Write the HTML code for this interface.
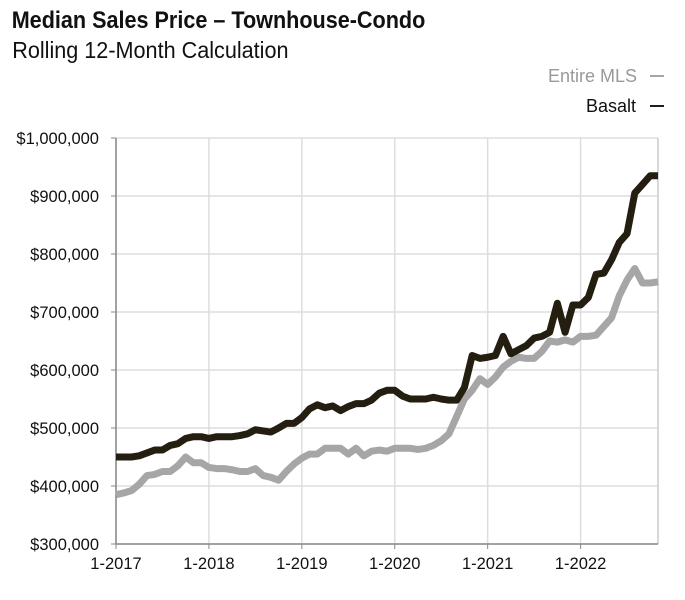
<!DOCTYPE html>
<html><head><meta charset="utf-8"><style>
body{margin:0;background:#fff;font-family:"Liberation Sans",sans-serif;}
#w{position:relative;width:685px;height:595px;}
</style></head><body>
<div id="w">
<svg width="685" height="595" id="svg">
<text x="13" y="28" font-size="24" font-weight="bold" fill="#111" transform="scale(0.9,1)">Median Sales Price – Townhouse-Condo</text>
<text x="13" y="58" font-size="23" fill="#111" transform="scale(0.94,1)">Rolling 12-Month Calculation</text>
<g><text x="637" y="82" font-size="18" fill="#999" text-anchor="end">Entire MLS</text><line x1="650" y1="76" x2="664" y2="76" stroke="#a6a6a6" stroke-width="2"/></g>
<g><text x="636" y="112" font-size="18" fill="#111" text-anchor="end">Basalt</text><line x1="650" y1="106" x2="664" y2="106" stroke="#231e10" stroke-width="2"/></g>
<g id="grid"></g><g id="axes"></g><g id="series"></g>
</svg></div>
<script>
const categories=[];for(let y=2017;y<=2022;y++)for(let m=1;m<=12;m++)if(!(y==2022&&m==12))categories.push(m+"-"+y);
const basalt=[450,450,450,452,457,462,462,470,473,482,485,485,482,485,485,485,487,490,497,495,493,500,508,508,518,533,540,535,538,530,537,542,542,548,560,565,565,555,550,550,550,553,550,548,548,570,625,620,622,625,658,628,635,642,655,658,665,715,665,712,712,725,765,767,790,820,835,905,920,935,935];
const entireMLS=[385,388,392,403,418,420,425,425,435,450,440,440,432,430,430,428,425,425,430,418,415,410,425,438,448,455,455,465,465,465,455,465,452,460,462,460,465,465,465,463,465,470,478,490,520,550,565,585,575,588,605,615,622,620,620,632,650,648,652,648,658,658,660,675,690,728,755,775,750,750,752];
const yTicks=[300,400,500,600,700,800,900,1000];
const yTickLabels=["$300,000","$400,000","$500,000","$600,000","$700,000","$800,000","$900,000","$1,000,000"];
const xTickLabels=["1-2017","1-2018","1-2019","1-2020","1-2021","1-2022"];
const X0=116,X1=658,Y0=544,Y1=138;
const x=i=>X0+(X1-X0)*i/(categories.length-1);
const y=v=>Y0-(v-300)/700*(Y0-Y1);
const NS="http://www.w3.org/2000/svg";
function mk(t,a,p){const e=document.createElementNS(NS,t);for(const k in a)e.setAttribute(k,a[k]);p.appendChild(e);return e;}
const grid=document.getElementById('grid'),axes=document.getElementById('axes'),ser=document.getElementById('series');
yTicks.forEach((v,i)=>{
 const l=mk('line',{x1:X0,x2:X1,y1:y(v),y2:y(v),stroke:'#ddd','stroke-width':1.5},grid);
 
 
 const t=mk('text',{x:99,y:y(v)+6,'font-size':16.5,'text-anchor':'end',fill:'#111'},axes);t.textContent=yTickLabels[i];
 
 
 mk('line',{x1:X0-5,x2:X0,y1:y(v),y2:y(v),stroke:'#888'},axes);
});
xTickLabels.forEach((s,i)=>{
 const xx=x(i*12);
 const l=mk('line',{x1:xx,x2:xx,y1:Y1,y2:Y0,stroke:'#ddd','stroke-width':1.5},grid);
 
 
 mk('line',{x1:xx,x2:xx,y1:Y0,y2:Y0+5,stroke:'#888'},axes);
 const t=mk('text',{x:xx,y:Y0+25,'font-size':16.5,'text-anchor':'middle',fill:'#111'},axes);t.textContent=s;
 
 
});
mk('line',{x1:X1,x2:X1,y1:Y1,y2:Y0,stroke:'#ccc','stroke-width':1.5},grid);
mk('line',{x1:X0,x2:X0,y1:Y1,y2:Y0,stroke:'#888','stroke-width':1.5},axes);
mk('line',{x1:X0,x2:X1,y1:Y0,y2:Y0,stroke:'#888','stroke-width':1.5},axes);
function line(d,c,n){const p=mk('polyline',{points:d.map((v,i)=>x(i)+','+y(v)).join(' '),fill:'none',stroke:c,'stroke-width':7,'stroke-linejoin':'round'},ser);
 
 }
line(entireMLS,'#a6a6a6','entire-mls-line');
line(basalt,'#231e10','basalt-line');
</script></body></html>
